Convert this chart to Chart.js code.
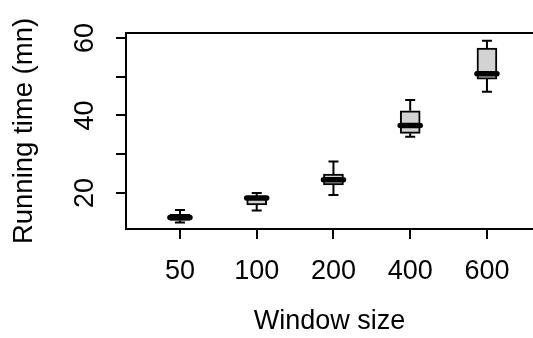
<!DOCTYPE html>
<html>
<head>
<meta charset="utf-8">
<script src="https://cdn.jsdelivr.net/npm/chart.js@4/dist/chart.umd.min.js"></script>
<style>
    body { margin: 0; background: #fff; }
    #box { display: block; }
</style>
</head>
<body>
<canvas id="box" width="533" height="338"></canvas>
<script>
const categories = ['50', '100', '200', '400', '600'];
const whiskerLow = [12.4, 15.5, 19.5, 34.5, 46.1];
const q1 = [12.9, 16.9, 22.1, 35.4, 49.4];
const median = [13.7, 18.7, 23.4, 37.4, 50.8];
const q3 = [14.5, 19.1, 24.9, 41.2, 57.4];
const whiskerHigh = [15.6, 20.0, 28.1, 44.0, 59.3];
const yTickValues = [20, 30, 40, 50, 60];
const yTickLabels = ['20', '', '40', '', '60'];

const font = 'Liberation Sans, Arial, Helvetica, sans-serif';

// whiskers, caps and the thick median line, placed with the chart scales
const boxExtras = {
    id: 'boxExtras',
    afterDatasetsDraw(chart) {
        const { ctx, chartArea } = chart;
        const x = chart.scales.x;
        const y = chart.scales.y;
        ctx.save();
        ctx.strokeStyle = '#000';
        ctx.lineWidth = 2;
        ctx.beginPath();
        ctx.moveTo(chartArea.left, chartArea.top);
        ctx.lineTo(chartArea.right, chartArea.top);
        ctx.stroke();

        categories.forEach((c, i) => {
            const px = x.getPixelForValue(i + 1);
            const cap = 5;
            ctx.lineWidth = 2;
            ctx.lineCap = 'butt';
            ctx.beginPath();
            ctx.moveTo(px, y.getPixelForValue(q3[i]));
            ctx.lineTo(px, y.getPixelForValue(whiskerHigh[i]));
            ctx.moveTo(px - cap, y.getPixelForValue(whiskerHigh[i]));
            ctx.lineTo(px + cap, y.getPixelForValue(whiskerHigh[i]));
            ctx.moveTo(px, y.getPixelForValue(q1[i]));
            ctx.lineTo(px, y.getPixelForValue(whiskerLow[i]));
            ctx.moveTo(px - cap, y.getPixelForValue(whiskerLow[i]));
            ctx.lineTo(px + cap, y.getPixelForValue(whiskerLow[i]));
            ctx.stroke();

            ctx.lineWidth = 5.5;
            ctx.lineCap = 'round';
            ctx.beginPath();
            ctx.moveTo(px - 10, y.getPixelForValue(median[i]));
            ctx.lineTo(px + 10, y.getPixelForValue(median[i]));
            ctx.stroke();
        });
        ctx.restore();
    }
};

new Chart(document.getElementById('box'), {
    type: 'bar',
    data: {
        datasets: [
            {
                label: 'Running time',
                data: categories.map((c, i) => ({ x: i + 1, y: [q1[i], q3[i]] })),
                backgroundColor: '#D3D3D3',
                borderColor: '#000',
                borderWidth: 2,
                borderSkipped: false,
                barThickness: 20
            }
        ]
    },
    options: {
        responsive: false,
        animation: false,
        layout: { padding: { top: 33, left: 0, right: 0, bottom: 0 } },
        plugins: {
            legend: { display: false },
            tooltip: { enabled: false }
        },
        scales: {
            x: {
                type: 'linear',
                min: 0.297,
                max: 5.6,
                offset: false,
                afterFit(scale) { scale.height = 109; },
                afterBuildTicks(scale) {
                    scale.ticks = categories.map((c, i) => ({ value: i + 1 }));
                },
                ticks: {
                    autoSkip: false,
                    maxRotation: 0,
                    padding: 16,
                    color: '#000',
                    font: { family: font, size: 27 },
                    callback: (v) => categories[v - 1]
                },
                grid: {
                    offset: false,
                    drawOnChartArea: false,
                    drawTicks: true,
                    tickLength: 10,
                    color: '#000',
                    lineWidth: 2
                },
                border: { display: true, color: '#000', width: 2 },
                title: {
                    display: true,
                    text: 'Window size',
                    color: '#000',
                    font: { family: font, size: 27 },
                    padding: { top: 0, bottom: 0 }
                }
            },
            y: {
                min: 10.71,
                max: 61.29,
                afterFit(scale) { scale.width = 126; },
                afterBuildTicks(scale) {
                    scale.ticks = yTickValues.map(v => ({ value: v }));
                },
                ticks: {
                    minRotation: 90,
                    maxRotation: 90,
                    crossAlign: 'center',
                    padding: 15,
                    color: '#000',
                    font: { family: font, size: 27 },
                    callback: (v) => yTickLabels[yTickValues.indexOf(v)]
                },
                grid: {
                    drawOnChartArea: false,
                    drawTicks: true,
                    tickLength: 10,
                    color: '#000',
                    lineWidth: 2
                },
                border: { display: true, color: '#000', width: 2 },
                title: {
                    display: true,
                    text: 'Running time (mn)',
                    color: '#000',
                    font: { family: font, size: 27.5 },
                    padding: { top: 8, bottom: 0 }
                }
            }
        }
    },
    plugins: [boxExtras]
});
</script>
</body>
</html>
